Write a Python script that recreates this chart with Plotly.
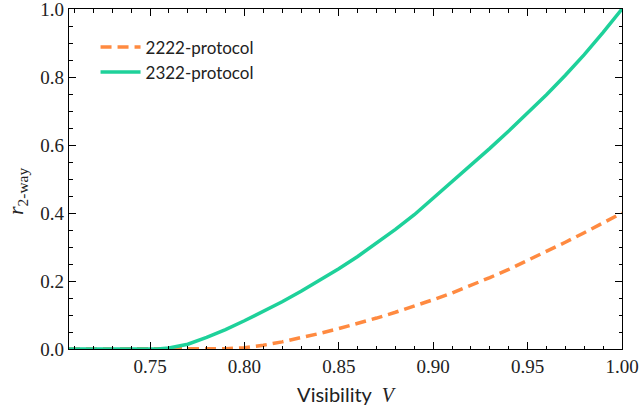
import plotly.graph_objects as go

# Two-way key rate versus visibility for the two protocols
v_2322 = [0.7071, 0.75, 0.754, 0.76, 0.77, 0.78, 0.79, 0.80, 0.81, 0.82,
          0.83, 0.84, 0.85, 0.86, 0.87, 0.88, 0.89, 0.90, 0.91, 0.92,
          0.93, 0.94, 0.95, 0.96, 0.97, 0.98, 0.99, 1.00]
r_2322 = [0.0, 0.0, 0.0, 0.003, 0.014, 0.034, 0.057, 0.083, 0.110, 0.139,
          0.170, 0.202, 0.236, 0.272, 0.311, 0.352, 0.395, 0.443, 0.491, 0.540,
          0.590, 0.641, 0.694, 0.748, 0.805, 0.866, 0.931, 1.000]

v_2222 = [0.7071, 0.78, 0.785, 0.79, 0.80, 0.81, 0.82, 0.83, 0.84, 0.85,
          0.86, 0.87, 0.88, 0.89, 0.90, 0.91, 0.92, 0.93, 0.94, 0.95,
          0.96, 0.97, 0.98, 0.99, 1.00]
r_2222 = [0.0, 0.0, 0.0, 0.001, 0.004, 0.011, 0.021, 0.033, 0.046, 0.060,
          0.075, 0.091, 0.108, 0.126, 0.145, 0.165, 0.187, 0.210, 0.234, 0.260,
          0.287, 0.314, 0.342, 0.371, 0.400]

# Major tick positions (labels follow the tick format) and minor steps
x_ticks = [0.75, 0.80, 0.85, 0.90, 0.95, 1.00]
y_ticks = [0.0, 0.2, 0.4, 0.6, 0.8, 1.0]
x_minor_step = 0.01
y_minor_step = 0.05
x_range = [0.7071, 1.0]
y_range = [0.0, 1.0]

ORANGE = "#ff8a40"
GREEN = "#1ed19a"
SERIF = "Liberation Serif"
SANS = "Lato"
INK = "#222222"

fig = go.Figure()
fig.add_trace(go.Scatter(
    x=v_2222, y=r_2222, mode="lines", name="2222-protocol",
    line=dict(color=ORANGE, width=3.5, dash="11px,6px"),
))
fig.add_trace(go.Scatter(
    x=v_2322, y=r_2322, mode="lines", name="2322-protocol",
    line=dict(color=GREEN, width=3.5),
))

# Invisible anchors so the overlaid minor-tick axes get drawn
for xa, ya in (("x2", "y2"), ("x3", "y3")):
    fig.add_trace(go.Scatter(
        x=[x_ticks[0]], y=[y_ticks[0]], xaxis=xa, yaxis=ya, mode="markers",
        marker=dict(opacity=0, size=1), showlegend=False, hoverinfo="skip",
    ))


def major_axis(ticks, fmt, rng):
    return dict(
        range=rng, tickmode="linear", tick0=ticks[0],
        dtick=round(ticks[1] - ticks[0], 6), tickformat=fmt,
        showline=True, linecolor="black", linewidth=1.2, mirror="allticks",
        ticks="inside", ticklen=6.5, tickwidth=1.3, tickcolor="black",
        showgrid=False, zeroline=False,
        tickfont=dict(family=SERIF, size=19, color=INK),
    )


def minor_axis(start, step, rng, overlay, side, anchor):
    return dict(
        range=rng, overlaying=overlay, side=side, anchor=anchor,
        tickmode="linear", tick0=start, dtick=step,
        ticks="inside", ticklen=3.5, tickwidth=1, tickcolor="black",
        showticklabels=False, showline=False, showgrid=False, zeroline=False,
    )


xaxis = major_axis(x_ticks, ".2f", x_range)
xaxis["title"] = dict(
    text='Visibility  <span style="font-family:Liberation Serif"><i>V</i></span>',
    font=dict(family=SANS, size=20, color=INK), standoff=12)
yaxis = major_axis(y_ticks, ".1f", y_range)
yaxis["ticklabeloverflow"] = "allow"

fig.update_layout(
    template="none",
    width=639, height=415,
    margin=dict(l=69, r=17, t=9, b=66),
    paper_bgcolor="white", plot_bgcolor="white",
    xaxis=xaxis, yaxis=yaxis,
    xaxis2=minor_axis(x_ticks[0], x_minor_step, x_range, "x", "bottom", "y"),
    xaxis3=minor_axis(x_ticks[0], x_minor_step, x_range, "x", "top", "y"),
    yaxis2=minor_axis(y_ticks[0], y_minor_step, y_range, "y", "left", "x"),
    yaxis3=minor_axis(y_ticks[0], y_minor_step, y_range, "y", "right", "x"),
    showlegend=True,
    legend=dict(
        x=0.048, y=0.94, xanchor="left", yanchor="top",
        bgcolor="rgba(0,0,0,0)", borderwidth=0,
        font=dict(family=SANS, size=17, color=INK),
        tracegroupgap=8, itemwidth=40,
    ),
    annotations=[dict(
        text="<i>r</i><sub>2-way</sub>", textangle=-90,
        xref="paper", yref="paper", x=-0.094, y=0.462,
        xanchor="center", yanchor="middle", showarrow=False,
        font=dict(family=SERIF, size=22, color=INK),
    )],
)

fig.write_html("out.html")
